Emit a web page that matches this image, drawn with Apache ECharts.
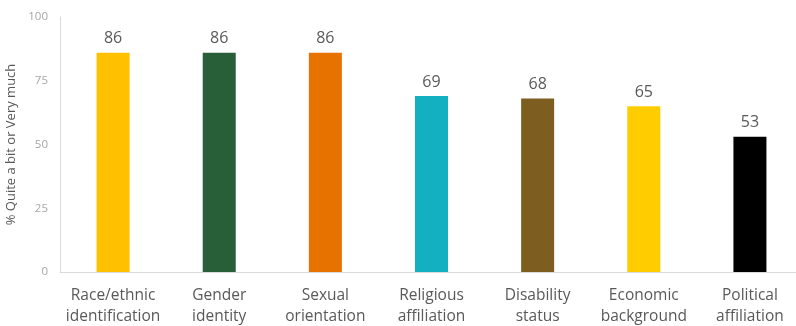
<!DOCTYPE html>
<html><head><meta charset="utf-8">
<script src="https://cdn.jsdelivr.net/npm/echarts@6/dist/echarts.min.js"></script>
<style>html,body{margin:0;padding:0;background:#fff}#c{width:796px;height:326px}</style>
</head><body><div id="c"></div>
<script>
const categories = ["Race/ethnic\nidentification","Gender\nidentity","Sexual\norientation","Religious\naffiliation","Disability\nstatus","Economic\nbackground","Political\naffiliation"];
const values = [86, 86, 86, 69, 68, 65, 53];
const barColors = ["#FFC000","#285E38","#E87200","#13B0C1","#7D5E20","#FFCC00","#000000"];
const yTicks = [0, 25, 50, 75, 100];
const yName = "% Quite a bit or Very much";

const chart = echarts.init(document.getElementById('c'), null, {renderer:'canvas'});
chart.setOption({
  animation:false,
  backgroundColor:'#fff',
  grid:{left:60, top:17, width:743, height:255, containLabel:false, outerBoundsMode:'none'},
  xAxis:{type:'category', data:categories,
    axisLine:{lineStyle:{color:'#d9d9d9'}}, axisTick:{show:false},
    axisLabel:{color:'#595959', fontFamily:'Open Sans', fontSize:15.5, lineHeight:21, margin:13, interval:0}},
  yAxis:{type:'value', min:yTicks[0], max:yTicks[yTicks.length-1], interval:25,
    name:yName, nameLocation:'middle', nameGap:32, nameRotate:90,
    nameTextStyle:{color:'#595959', fontFamily:'Open Sans', fontSize:13},
    axisLine:{show:true, lineStyle:{color:'#d9d9d9'}}, axisTick:{show:false},
    splitLine:{show:false},
    axisLabel:{color:'#a6a6a6', fontFamily:'Open Sans', fontSize:11.5, margin:12}},
  series:[{type:'bar', barWidth:33,
    data: values.map((v,i)=>({value:v, itemStyle:{color:barColors[i]}})),
    label:{show:true, position:'top', distance:6, color:'#595959', fontFamily:'Open Sans', fontSize:16}}]
});
</script></body></html>
